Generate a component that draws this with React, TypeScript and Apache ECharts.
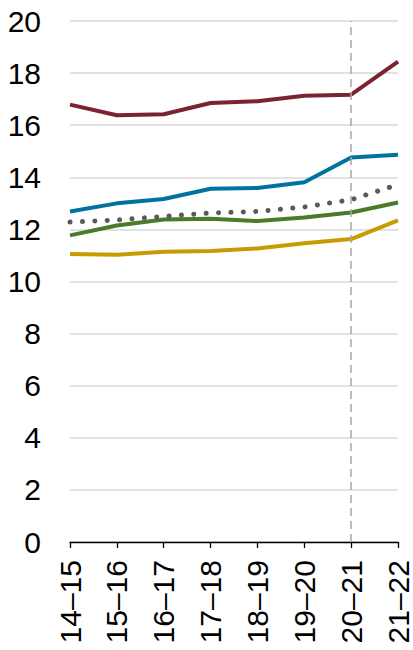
import React, { useEffect, useRef } from "react";
import * as echarts from "echarts";

const categories = ["14–15", "15–16", "16–17", "17–18", "18–19", "19–20", "20–21", "21–22"];
const redSeries = [16.79, 16.38, 16.42, 16.85, 16.92, 17.13, 17.17, 18.44];
const blueSeries = [12.69, 13.0, 13.17, 13.56, 13.59, 13.81, 14.76, 14.87];
const dottedSeries = [12.28, 12.36, 12.5, 12.63, 12.69, 12.86, 13.14, 13.72];
const greenSeries = [11.77, 12.15, 12.38, 12.41, 12.32, 12.46, 12.65, 13.03];
const goldSeries = [11.06, 11.03, 11.14, 11.17, 11.27, 11.47, 11.63, 12.35];
const markerCategory = "20–21";

export default function App() {
  const ref = useRef<HTMLDivElement>(null);
  useEffect(() => {
    if (!ref.current) return;
    const chart = echarts.init(ref.current, null, { renderer: "svg" });
    const font = "Liberation Sans, Arial, sans-serif";
    const line = (name: string, data: number[], color: string, extra: any = {}) => ({
      name,
      type: "line",
      data,
      symbol: "none",
      lineStyle: { color, width: 4, ...extra },
      z: 3,
    });
    chart.setOption({
      animation: false,
      grid: { left: 70, right: 14, top: 21, bottom: 108, containLabel: false },
      xAxis: {
        type: "category",
        data: categories,
        boundaryGap: false,
        axisLine: { lineStyle: { color: "#000", width: 1.3 } },
        axisTick: { show: true, length: 6, lineStyle: { color: "#000", width: 1.3 } },
        axisLabel: {
          rotate: 90,
          fontSize: 30,
          color: "#000",
          fontFamily: font,
          margin: 18,
          interval: 0,
        },
        splitLine: { show: false },
      },
      yAxis: {
        type: "value",
        min: 0,
        max: 20,
        interval: 2,
        axisLine: { show: false },
        axisTick: { show: false },
        axisLabel: { fontSize: 30, color: "#000", fontFamily: font, margin: 29 },
        splitLine: { lineStyle: { color: "#d9d9d9", width: 1.5 } },
      },
      series: [
        {
          ...line("gold", goldSeries, "#C89B00"),
          markLine: {
            silent: true,
            symbol: "none",
            label: { show: false },
            lineStyle: { color: "#a6a6a6", type: [8, 5], width: 1.5 },
            data: [{ xAxis: markerCategory }],
          },
        },
        line("green", greenSeries, "#4A7A2A"),
        line("dotted", dottedSeries, "#595959", { type: [0.1, 12.3], cap: "round", width: 5 }),
        line("blue", blueSeries, "#0072A0"),
        line("red", redSeries, "#7B2431"),
      ],
    });
    return () => chart.dispose();
  }, []);
  return <div ref={ref} style={{ width: 413, height: 650, position: "absolute", left: 0, top: 0 }} />;
}
